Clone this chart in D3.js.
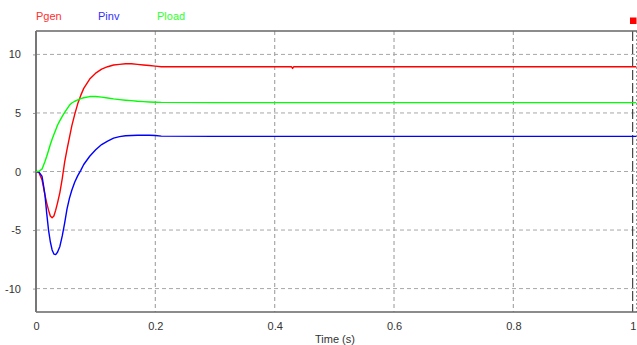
<!DOCTYPE html>
<html>
<head>
<meta charset="utf-8">
<script src="https://cdn.jsdelivr.net/npm/d3@7"></script>
<style>
  html, body { margin: 0; padding: 0; background: #fff; overflow: hidden; }
  svg { display: block; font-family: "Liberation Sans", Arial, sans-serif; }
</style>
</head>
<body>
<svg id="chart" width="637" height="345"></svg>
<script>
// Simulation samples (time in seconds, power values)
const time = [0, 0.005, 0.01, 0.012, 0.015, 0.018, 0.021, 0.024, 0.027, 0.03, 0.033, 0.036,
  0.04, 0.044, 0.048, 0.052, 0.056, 0.06, 0.065, 0.07, 0.075, 0.08, 0.09, 0.1, 0.11, 0.12,
  0.13, 0.14, 0.15, 0.16, 0.17, 0.18, 0.19, 0.2, 0.21, 0.3, 0.4, 0.428, 0.43, 0.432, 0.5,
  0.6, 0.7, 0.8, 0.9, 1.0, 1.006];

const pgen = [0, -0.1, -0.7, -1.2, -2.0, -2.7, -3.3, -3.8, -3.95, -3.8, -3.3, -2.7,
  -1.8, -0.6, 0.8, 1.9, 2.9, 3.9, 4.9, 5.8, 6.5, 7.1, 7.9, 8.4, 8.75, 8.95,
  9.1, 9.15, 9.2, 9.2, 9.15, 9.1, 9.05, 9.0, 8.95, 8.95, 8.95, 8.95, 8.8, 8.95, 8.95,
  8.95, 8.95, 8.95, 8.95, 8.95, 8.95];

const pinv = [0, -0.05, -0.4, -1.0, -2.0, -3.6, -5.0, -6.0, -6.7, -7.05, -7.1, -6.9,
  -6.4, -5.5, -4.4, -3.2, -2.3, -1.6, -0.9, -0.35, 0.1, 0.6, 1.3, 1.85, 2.3, 2.6,
  2.85, 2.98, 3.05, 3.08, 3.1, 3.1, 3.1, 3.08, 3.02, 3.0, 3.0, 3.0, 3.0, 3.0, 3.0,
  3.0, 3.0, 3.0, 3.0, 3.0, 3.0];

const pload = [0, 0.02, 0.2, 0.45, 0.85, 1.3, 1.8, 2.3, 2.75, 3.15, 3.55, 3.95,
  4.35, 4.7, 5.05, 5.35, 5.65, 5.85, 6.0, 6.12, 6.22, 6.3, 6.4, 6.4, 6.35, 6.28,
  6.2, 6.14, 6.09, 6.05, 6.0, 5.97, 5.94, 5.92, 5.9, 5.88, 5.88, 5.88, 5.88, 5.88, 5.88,
  5.88, 5.88, 5.88, 5.88, 5.88, 5.88];

const seriesNames = ["Pgen", "Pinv", "Pload"];
const seriesColors = ["#ff0000", "#0000ff", "#00ff00"];
const legendColors = ["#ff3030", "#3030ff", "#30ff30"];
const xTicks = [0, 0.2, 0.4, 0.6, 0.8, 1];
const xTickLabels = ["0", "0.2", "0.4", "0.6", "0.8", "1"];
const yTicks = [10, 5, 0, -5, -10];
const yTickLabels = ["10", "5", "0", "-5", "-10"];

const svg = d3.select("#chart");
const plotLeft = 36, plotRight = 632.7, plotTop = 31, plotBottom = 312, edge = 637;

const x = d3.scaleLinear().domain([0, 1]).range([plotLeft, plotRight]);
const y = d3.scaleLinear().domain([-12, 12]).range([plotBottom, plotTop]);

// clip region for the traces
svg.append("defs").append("clipPath").attr("id", "plot-clip")
  .append("rect").attr("x", plotLeft).attr("y", plotTop)
  .attr("width", edge - plotLeft).attr("height", plotBottom - plotTop);

// horizontal grid
svg.append("g").selectAll("line").data(yTicks).join("line")
  .attr("x1", plotLeft).attr("x2", edge)
  .attr("y1", d => y(d)).attr("y2", d => y(d))
  .attr("stroke", "#a8a8a8").attr("stroke-width", 1).attr("stroke-dasharray", "4,3");

// vertical grid
svg.append("g").selectAll("line").data(xTicks.filter(d => d > 0 && d < 1)).join("line")
  .attr("x1", d => x(d)).attr("x2", d => x(d))
  .attr("y1", plotTop).attr("y2", plotBottom)
  .attr("stroke", "#a8a8a8").attr("stroke-width", 1.2).attr("stroke-dasharray", "4,3");

// end-of-run marker
svg.append("line")
  .attr("x1", x(1)).attr("x2", x(1)).attr("y1", plotTop).attr("y2", plotBottom)
  .attr("stroke", "#222").attr("stroke-width", 1).attr("stroke-dasharray", "10,3");
svg.append("line")
  .attr("x1", 636.5).attr("x2", 636.5).attr("y1", plotTop).attr("y2", plotBottom)
  .attr("stroke", "#999").attr("stroke-width", 1).attr("stroke-dasharray", "2,2");

// frame
svg.append("line").attr("x1", plotLeft).attr("x2", edge).attr("y1", plotTop).attr("y2", plotTop)
  .attr("stroke", "#666").attr("stroke-width", 1.6);
svg.append("line").attr("x1", plotLeft).attr("x2", edge).attr("y1", plotBottom).attr("y2", plotBottom)
  .attr("stroke", "#666").attr("stroke-width", 1.6);
svg.append("line").attr("x1", plotLeft).attr("x2", plotLeft).attr("y1", plotTop).attr("y2", plotBottom)
  .attr("stroke", "#777").attr("stroke-width", 2);

// y axis ticks and labels
const yAxis = d3.axisLeft(y).tickValues(yTicks).tickSize(2)
  .tickFormat((d, i) => yTickLabels[i]);
const gy = svg.append("g").attr("transform", `translate(${plotLeft - 1},0)`).call(yAxis);
gy.select(".domain").remove();
gy.selectAll(".tick line").attr("stroke", "#999");
gy.selectAll(".tick text").attr("x", -14).attr("fill", "#333")
  .style("font-size", "11px").style("font-family", "Liberation Sans, Arial, sans-serif");

// x axis labels
const xAxis = d3.axisBottom(x).tickValues(xTicks).tickSize(0)
  .tickFormat((d, i) => xTickLabels[i]);
const gx = svg.append("g").attr("transform", `translate(0,${plotBottom})`).call(xAxis);
gx.select(".domain").remove();
gx.selectAll(".tick text").attr("y", 10).attr("fill", "#333")
  .style("font-size", "11px").style("font-family", "Liberation Sans, Arial, sans-serif");

svg.append("text").attr("x", 335).attr("y", 342.5).attr("text-anchor", "middle")
  .attr("fill", "#333").style("font-size", "11px").text("Time (s)");

// traces
const line = d3.line().x((d, i) => x(time[i])).y(d => y(d));
const plot = svg.append("g").attr("clip-path", "url(#plot-clip)");
[pgen, pinv, pload].forEach((vals, k) => {
  plot.append("path").datum(vals)
    .attr("d", line)
    .attr("fill", "none")
    .attr("stroke", seriesColors[k])
    .attr("stroke-width", 1.4)
    .attr("stroke-linejoin", "round");
});

// legend
const legendX = [36, 98, 157];
svg.append("g").selectAll("text").data(seriesNames).join("text")
  .attr("x", (d, i) => legendX[i]).attr("y", 20)
  .attr("fill", (d, i) => legendColors[i])
  .style("font-size", "11px")
  .text(d => d);

// status marker
svg.append("rect").attr("x", 630).attr("y", 17.5).attr("width", 6.5).attr("height", 6.5)
  .attr("fill", "#ff0000");
</script>
</body>
</html>
